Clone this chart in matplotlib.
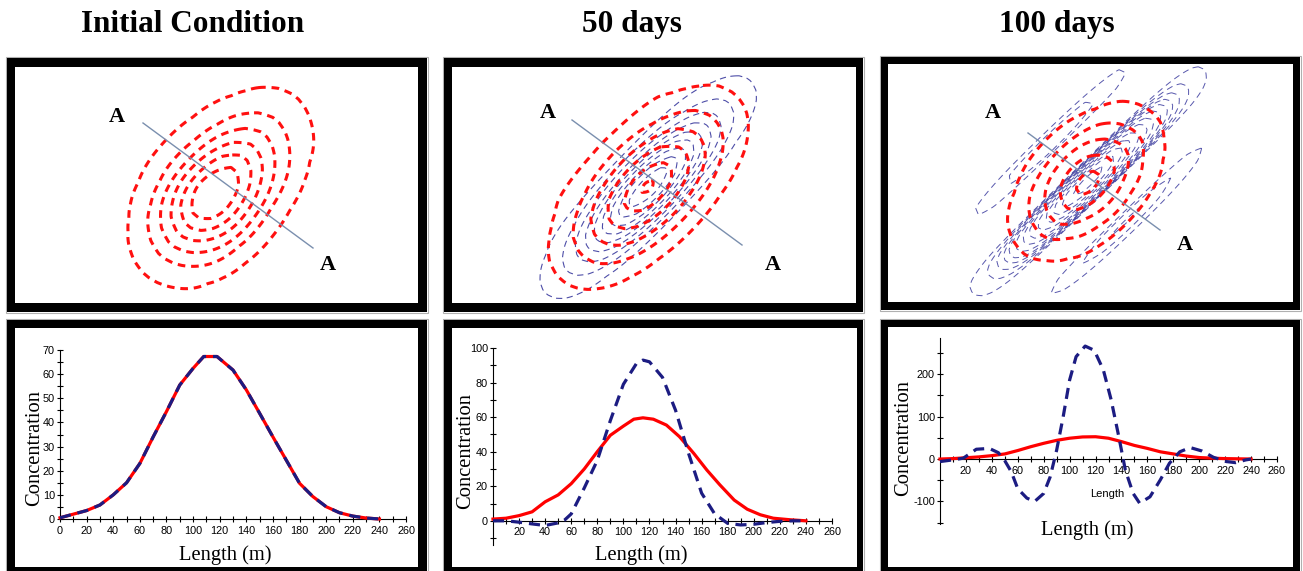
import numpy as np
import matplotlib
matplotlib.use("Agg")
import matplotlib.pyplot as plt
from matplotlib.patches import Rectangle
from matplotlib.ticker import FixedLocator, NullFormatter

plt.rcParams['lines.scale_dashes'] = False
plt.rcParams['axes.unicode_minus'] = False

# ---------------- data ----------------
titles = ["Initial Condition", "50 days", "100 days"]

init_x = [0, 10, 20, 30, 40, 50, 60, 70, 80, 90, 100, 108, 118, 130, 140, 150, 160, 170, 180, 190, 200, 210, 220, 230, 240]
init_c = [0.5, 2, 3.5, 5.8, 10, 15, 23, 34, 44.5, 55.5, 62.4, 67.3, 67.3, 61.7, 53.5, 43.8, 34, 24.4, 14.8, 9.3, 5.1, 2.6, 1.2, 0.4, 0]

d50_red_x = [0, 10, 20, 30, 40, 50, 60, 70, 80, 90, 100, 108, 115, 123, 133, 143, 154, 164, 174, 185, 195, 205, 215, 228, 240]
d50_red = [1, 1.5, 3, 5.2, 11, 15, 21.5, 30, 40, 49.5, 54.8, 58.8, 59.6, 58.8, 55.4, 48.7, 39, 29.4, 20.8, 12, 6.7, 3.5, 1.5, 0.6, 0]

d50_num_x = [0, 10, 20, 30, 40, 50, 55, 60, 70, 80, 90, 100, 110, 115, 120, 130, 140, 150, 160, 170, 180, 190, 200, 210, 220, 230, 240]
d50_num = [0, 0, -0.8, -1.8, -2.7, -1.2, 0.5, 4, 19, 35, 58, 79, 91, 93, 92, 83, 64, 39, 16, 4, -1.5, -2.4, -2, -1, -0.3, 0, 0]

d100_red_x = [0, 10, 20, 30, 40, 50, 60, 70, 80, 90, 100, 110, 120, 130, 140, 150, 160, 170, 180, 190, 200, 210, 220, 230, 240]
d100_red = [0, 1, 3, 5, 8, 12, 20, 29, 37, 44, 49, 52, 52.5, 49, 41, 32, 25, 17, 12, 7, 3.5, 2, 1, 0.5, 0]

d100_num_x = [0, 10, 18, 28, 38, 45, 50, 55, 60, 67, 73, 80, 85, 90, 95, 100, 105, 112, 119, 126, 132, 138, 143, 149, 154, 162, 170, 177, 185, 193, 202, 211, 221, 228, 236, 240]
d100_num = [-6, -2, 2, 23, 25, 15, -4, -30, -70, -92, -100, -81, -42, 21, 99, 186, 241, 266, 256, 210, 140, 52, -26, -81, -104, -89, -49, -10, 17, 27, 19, 4, -6, -8.5, -2, 0]

# contour levels of the plan-view maps
lv_init = [4, 13, 23, 34, 45, 56]
lv_50_red = [5, 15, 27, 40, 52, 59]
lv_50_num = [5, 15, 25, 35, 45, 55, 65, 75, 85]
lv_100_red = [5, 15, 27, 40, 50]
lv_100_num = [5, 15, 25, 35, 45, 60, 80, 100, 130, 160, 190, 220, 250]

# ---------------- figure ----------------
W, H = 1303, 571
fig = plt.figure(figsize=(W / 100, H / 100), dpi=100)
bg = fig.add_axes([0, 0, 1, 1])
bg.set_xlim(0, W)
bg.set_ylim(H, 0)
bg.axis('off')

SERIF = 'Liberation Serif'
SANS = 'Liberation Sans'

# frames: (outer x0, x1, y0, y1, inner x0, x1, y0, y1)
frames = [
    (7, 427, 58, 312, 15, 418, 67, 303),
    (444, 863, 58, 312, 452, 856, 67, 303),
    (881, 1300, 57, 310, 888, 1293, 64, 302),
    (7, 427, 320, 578, 15, 418, 328, 567),
    (444, 863, 320, 578, 452, 857, 328, 567),
    (881, 1300, 320, 578, 888, 1293, 327, 567),
]
for ox0, ox1, oy0, oy1, ix0, ix1, iy0, iy1 in frames:
    bg.add_patch(Rectangle((ox0 - 1, oy0 - 1), ox1 - ox0 + 2, oy1 - oy0 + 2,
                           facecolor='none', edgecolor='#b0b0b0', lw=0.8, zorder=1))
    bg.add_patch(Rectangle((ox0, oy0), ox1 - ox0, oy1 - oy0, facecolor='black',
                           edgecolor='none', zorder=1))
    bg.add_patch(Rectangle((ix0, iy0), ix1 - ix0, iy1 - iy0, facecolor='white',
                           edgecolor='none', zorder=2))

# titles
for t, cx in zip(titles, [193, 632, 1057]):
    bg.text(cx, 32, t, ha='center', va='baseline', fontsize=22.5,
            fontweight='bold', family=SERIF, zorder=5)


def field(X, Y, cx, cy, theta, s, xpk, xs, ys, sig_m, sig_p):
    t = np.deg2rad(theta)
    dx = X - cx
    dy = Y - cy
    u = dx * np.sin(t) + dy * np.cos(t)
    v = dx * np.cos(t) - dy * np.sin(t)
    m = xpk + u / s
    P = np.interp(m, xs, ys, left=0, right=0)
    sig = np.where(v > 0, sig_p, sig_m)
    return P * np.exp(-0.5 * (v / sig) ** 2)


RED_DASH = (0, (5.5, 4.2))
BLUE_DASH = (0, (4.5, 3.2))


def contour_panel(box, specs):
    x0, x1, y0, y1 = box
    X, Y = np.meshgrid(np.linspace(x0, x1, 500), np.linspace(y0, y1, 320))
    for (cx, cy, th, s, xpk, xs, ys, sm, sp, lv, col, lw, dash, al) in specs:
        Z = field(X, Y, cx, cy, th, s, xpk, xs, ys, sm, sp)
        cs = bg.contour(X, Y, Z, levels=lv, colors=col, linewidths=lw, zorder=3, alpha=al)
        cs.set_linestyle(dash)


# panel 1
contour_panel((15, 418, 67, 303), [
    (213, 195, 50, 0.79, 113, init_x, init_c, 44, 54, lv_init, '#ff1010', 2.2, RED_DASH, 1.0),
])
# panel 2
contour_panel((452, 856, 67, 303), [
    (647, 186, 46, 0.73, 114, d50_num_x, d50_num, 61, 61, lv_50_num, '#3a3a9e', 0.8, BLUE_DASH, 0.9),
    (647, 186, 46, 0.73, 114, d50_red_x, d50_red, 57, 57, lv_50_red, '#ff1010', 2.2, RED_DASH, 1.0),
])
# panel 3
contour_panel((888, 1293, 64, 302), [
    (1088, 181, 44, 0.69, 113, d100_num_x, d100_num, 57, 57, lv_100_num, '#3a3a9e', 0.7, BLUE_DASH, 0.85),
    (1088, 183, 46, 0.70, 116, d100_red_x, d100_red, 44, 44, lv_100_red, '#ff1010', 2.2, RED_DASH, 1.0),
])

# A-A section lines and labels
sections = [((143, 123), (313, 248), (117, 117), (328, 265)),
            ((572, 120), (742, 245), (548, 113), (773, 265)),
            ((1028, 133), (1160, 230), (993, 113), (1185, 245))]
for p0, p1, a0, a1 in sections:
    bg.plot([p0[0], p1[0]], [p0[1], p1[1]], color='#7a8fae', lw=1.0, zorder=4)
    for a in (a0, a1):
        bg.text(a[0], a[1], 'A', ha='center', va='center', fontsize=16,
                fontweight='bold', family=SERIF, zorder=5)


# ---------------- profile charts ----------------
def px_axes(x0, x1, ytop, ybot):
    ax = fig.add_axes([x0 / W, 1 - ybot / H, (x1 - x0) / W, (ybot - ytop) / H])
    ax.set_facecolor('none')
    for sp in ('top', 'right'):
        ax.spines[sp].set_visible(False)
    for sp in ('left', 'bottom'):
        ax.spines[sp].set_linewidth(0.8)
    ax.tick_params(which='both', direction='inout', length=4.5, width=0.8,
                   labelsize=7.8)
    ax.tick_params(axis='y', which='both', pad=1.5)
    ax.tick_params(axis='x', which='both', pad=2.5)
    return ax


def set_ticks(ax, xmaj, xmin, ymaj, ymin):
    ax.xaxis.set_major_locator(FixedLocator(xmaj))
    ax.xaxis.set_minor_locator(FixedLocator(xmin))
    ax.yaxis.set_major_locator(FixedLocator(ymaj))
    ax.yaxis.set_minor_locator(FixedLocator(ymin))
    ax.xaxis.set_minor_formatter(NullFormatter())
    ax.yaxis.set_minor_formatter(NullFormatter())
    ax.set_xticklabels([str(v) for v in xmaj], family=SANS)
    ax.set_yticklabels([str(v) for v in ymaj], family=SANS)


RED = '#ff0000'
NAVY = '#1c1c82'
NUM_DASH = (0, (8, 5))

# chart 1
ax1 = px_axes(60, 406, 350, 519)
ax1.set_xlim(0, 260)
ax1.set_ylim(0, 70)
ax1.plot(init_x, init_c, color=RED, lw=2.3, clip_on=False, zorder=3)
ax1.plot(init_x, init_c, color=NAVY, lw=2.3, linestyle=NUM_DASH, clip_on=False, zorder=4)
set_ticks(ax1, list(range(0, 261, 20)), list(range(10, 260, 20)),
          list(range(0, 71, 10)), list(range(5, 70, 10)))

# chart 2
ax2 = px_axes(493, 832, 348, 545)
ax2.set_xlim(0, 260)
ax2.set_ylim(-14, 100)
ax2.spines['bottom'].set_position(('data', 0))
ax2.plot(d50_red_x, d50_red, color=RED, lw=2.3, clip_on=False, zorder=3)
ax2.plot(d50_num_x, d50_num, color=NAVY, lw=2.3, linestyle=NUM_DASH, clip_on=False, zorder=4)
set_ticks(ax2, list(range(20, 261, 20)), list(range(10, 260, 20)),
          list(range(0, 101, 20)), list(range(-10, 100, 20)))

# chart 3
ax3 = px_axes(940, 1277, 338, 524)
ax3.set_xlim(0, 260)
ax3.set_ylim(-153, 285)
ax3.spines['bottom'].set_position(('data', 0))
ax3.plot(d100_red_x, d100_red, color=RED, lw=2.3, clip_on=False, zorder=3)
ax3.plot(d100_num_x, d100_num, color=NAVY, lw=2.3, linestyle=NUM_DASH, clip_on=False, zorder=4)
set_ticks(ax3, list(range(20, 261, 20)), list(range(10, 260, 20)),
          [-100, 0, 100, 200], [-150, -50, 50, 150, 250])

# axis labels
for (cx, cy) in [(35, 448), (466, 451), (904, 438)]:
    bg.text(cx, cy, 'Concentration', rotation=90, ha='center', va='center',
            fontsize=14.8, family=SERIF, zorder=5)
for (cx, cy) in [(225, 555), (641, 555), (1087, 530)]:
    bg.text(cx, cy, 'Length (m)', ha='center', va='center',
            fontsize=14.8, family=SERIF, zorder=5)
bg.text(1107, 494, 'Length', ha='center', va='center', fontsize=8,
        family=SANS, zorder=5)

fig.savefig('out.png', dpi=100)
